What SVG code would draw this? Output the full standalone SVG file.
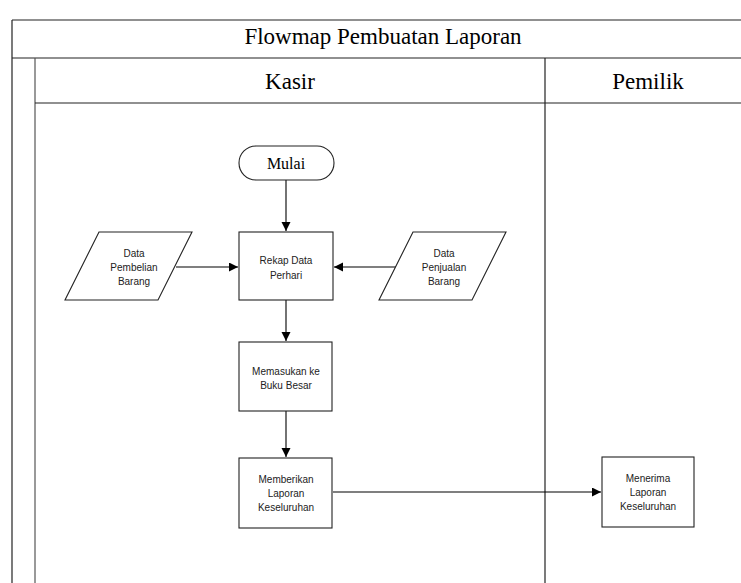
<svg xmlns="http://www.w3.org/2000/svg" width="741" height="583" viewBox="0 0 741 583">
  <style>
    .frame { fill: none; stroke: #222; stroke-width: 1.2; }
    .inner { fill: none; stroke: #555; stroke-width: 1.2; }
    .shape { fill: #fff; stroke: #222; stroke-width: 1.1; }
    .flow { fill: none; stroke: #000; stroke-width: 1.1; marker-end: url(#arrow); }
    .head { font-family: "Liberation Serif", "Times New Roman", serif; fill: #000; text-anchor: middle; }
    .lbl { font-family: "Liberation Sans", Arial, sans-serif; font-size: 10px; fill: #222; text-anchor: middle; }
  </style>
  <defs>
    <marker id="arrow" markerWidth="10" markerHeight="10" refX="9" refY="4.5" orient="auto" markerUnits="userSpaceOnUse">
      <path d="M0,0 L9,4.5 L0,9 Z" fill="#000"/>
    </marker>
  </defs>

  <rect width="741" height="583" fill="#fff"/>

  <!-- swimlane frame -->
  <g id="frame">
    <line class="frame" x1="12" y1="20" x2="741" y2="20"/>
    <line class="frame" x1="12" y1="20" x2="12" y2="583"/>
    <line class="frame" x1="12" y1="58" x2="741" y2="58"/>
    <line class="inner" x1="35" y1="58" x2="35" y2="583"/>
    <line class="frame" x1="35" y1="103" x2="741" y2="103"/>
    <line class="frame" x1="545" y1="58" x2="545" y2="583"/>
    <text class="head" x="383" y="44" font-size="23">Flowmap Pembuatan Laporan</text>
    <text class="head" x="290" y="89" font-size="23">Kasir</text>
    <text class="head" x="648" y="89" font-size="23">Pemilik</text>
  </g>

  <!-- connectors -->
  <g id="connectors">
    <line class="flow" x1="286" y1="180" x2="286" y2="231"/>
    <line class="flow" x1="176" y1="267" x2="238" y2="267"/>
    <line class="flow" x1="396" y1="267" x2="334" y2="267"/>
    <line class="flow" x1="286" y1="300" x2="286" y2="341"/>
    <line class="flow" x1="286" y1="411" x2="286" y2="457"/>
    <line class="flow" x1="333" y1="492" x2="601" y2="492"/>
  </g>

  <g id="mulai">
    <rect class="shape" x="239" y="146" width="95" height="34" rx="17" ry="17"/>
    <text class="head" x="286" y="169" font-size="16">Mulai</text>
  </g>

  <g id="data-pembelian">
    <polygon class="shape" points="99,232 192,232 158,300 65,300"/>
    <text class="lbl" x="134" y="257">Data</text>
    <text class="lbl" x="134" y="271">Pembelian</text>
    <text class="lbl" x="134" y="285">Barang</text>
  </g>

  <g id="rekap">
    <rect class="shape" x="239" y="232" width="94" height="68"/>
    <text class="lbl" x="286" y="264">Rekap Data</text>
    <text class="lbl" x="286" y="279">Perhari</text>
  </g>

  <g id="data-penjualan">
    <polygon class="shape" points="413,232 506,232 472,300 379,300"/>
    <text class="lbl" x="444" y="257">Data</text>
    <text class="lbl" x="444" y="271">Penjualan</text>
    <text class="lbl" x="444" y="285">Barang</text>
  </g>

  <g id="buku-besar">
    <rect class="shape" x="239" y="342" width="93" height="69"/>
    <text class="lbl" x="286" y="375">Memasukan ke</text>
    <text class="lbl" x="286" y="389">Buku Besar</text>
  </g>

  <g id="memberikan-laporan">
    <rect class="shape" x="239" y="458" width="93" height="70"/>
    <text class="lbl" x="286" y="483">Memberikan</text>
    <text class="lbl" x="286" y="497">Laporan</text>
    <text class="lbl" x="286" y="511">Keseluruhan</text>
  </g>

  <g id="menerima-laporan">
    <rect class="shape" x="602" y="457" width="92" height="70"/>
    <text class="lbl" x="648" y="482">Menerima</text>
    <text class="lbl" x="648" y="496">Laporan</text>
    <text class="lbl" x="648" y="510">Keseluruhan</text>
  </g>
</svg>
